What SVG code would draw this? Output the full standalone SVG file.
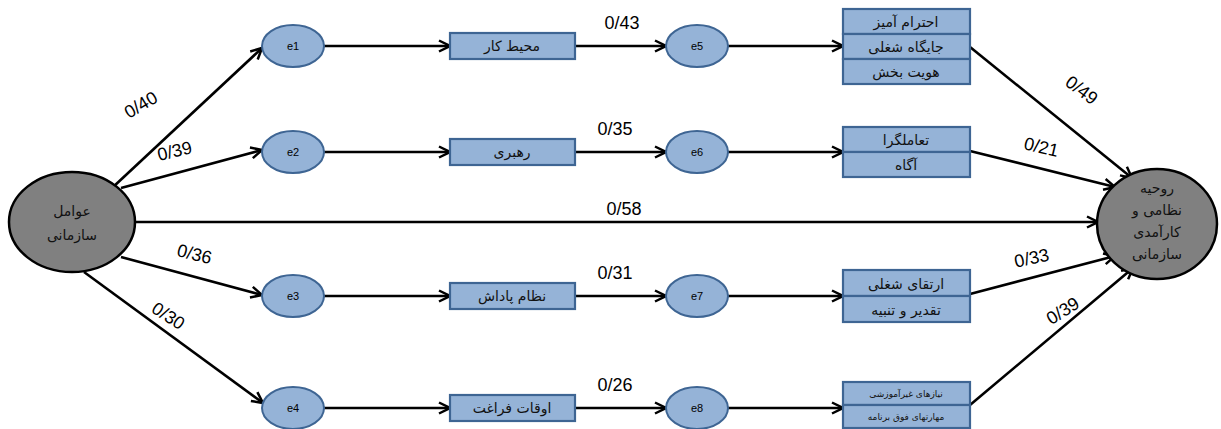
<svg xmlns="http://www.w3.org/2000/svg" width="1221" height="429" viewBox="0 0 1221 429">
<defs>
<marker id="arr" markerUnits="userSpaceOnUse" markerWidth="14" markerHeight="14" viewBox="0 0 14 14" refX="13" refY="7" orient="auto">
<path d="M2,1.5 L13,7 L2,12.5" fill="none" stroke="#000" stroke-width="2.5"/>
</marker>
</defs>
<style>
.c{stroke:#000;stroke-width:2.6;fill:none}
.big{fill:#808080;stroke:#000;stroke-width:2.5}
.e{fill:#95B3D7;stroke:#3E6593;stroke-width:2}
.b{fill:#95B3D7;stroke:#3E6593;stroke-width:2.2}
.lbl{font-family:"Liberation Sans",Arial,sans-serif;font-size:18px;fill:#000;text-anchor:middle}
.et{font-family:"Liberation Sans",Arial,sans-serif;font-size:11px;fill:#000;text-anchor:middle}
.fa{font-family:"DejaVu Sans","Noto Sans",sans-serif;font-size:14px;fill:#111;text-anchor:middle}
.fs{font-family:"DejaVu Sans","Noto Sans",sans-serif;font-size:9px;fill:#111;text-anchor:middle}
.ft{font-family:"DejaVu Sans","Noto Sans",sans-serif;font-size:14px;fill:#111;text-anchor:middle}
</style>
<rect width="1221" height="429" fill="#fff"/>
<g id="connectors">
<line class="c" x1="112" y1="188" x2="262" y2="48" marker-end="url(#arr)"/>
<line class="c" x1="121" y1="188" x2="262" y2="150" marker-end="url(#arr)"/>
<line class="c" x1="136" y1="222" x2="1098" y2="222" marker-end="url(#arr)"/>
<line class="c" x1="121" y1="257" x2="262" y2="295" marker-end="url(#arr)"/>
<line class="c" x1="84" y1="272" x2="263" y2="403" marker-end="url(#arr)"/>
<line class="c" x1="324" y1="46" x2="450" y2="46" marker-end="url(#arr)"/>
<line class="c" x1="324" y1="152" x2="450" y2="152" marker-end="url(#arr)"/>
<line class="c" x1="324" y1="296" x2="450" y2="296" marker-end="url(#arr)"/>
<line class="c" x1="324" y1="408" x2="450" y2="408" marker-end="url(#arr)"/>
<line class="c" x1="575" y1="46" x2="666" y2="46" marker-end="url(#arr)"/>
<line class="c" x1="575" y1="152" x2="666" y2="152" marker-end="url(#arr)"/>
<line class="c" x1="575" y1="296" x2="666" y2="296" marker-end="url(#arr)"/>
<line class="c" x1="575" y1="408" x2="666" y2="408" marker-end="url(#arr)"/>
<line class="c" x1="728" y1="46" x2="843" y2="46" marker-end="url(#arr)"/>
<line class="c" x1="728" y1="152" x2="843" y2="152" marker-end="url(#arr)"/>
<line class="c" x1="728" y1="296" x2="843" y2="296" marker-end="url(#arr)"/>
<line class="c" x1="728" y1="408" x2="843" y2="408" marker-end="url(#arr)"/>
<line class="c" x1="970" y1="47" x2="1132" y2="178" marker-end="url(#arr)"/>
<line class="c" x1="970" y1="151" x2="1115" y2="187" marker-end="url(#arr)"/>
<line class="c" x1="970" y1="294" x2="1115" y2="256" marker-end="url(#arr)"/>
<line class="c" x1="970" y1="405" x2="1133" y2="268" marker-end="url(#arr)"/>
<text class="lbl" transform="translate(144,110) rotate(-31)">0/40</text>
<text class="lbl" transform="translate(176,157) rotate(-13)">0/39</text>
<text class="lbl" transform="translate(193,260) rotate(14)">0/36</text>
<text class="lbl" transform="translate(165,321) rotate(33)">0/30</text>
<text class="lbl" x="622" y="29">0/43</text>
<text class="lbl" x="615" y="135">0/35</text>
<text class="lbl" x="624" y="215">0/58</text>
<text class="lbl" x="615" y="279">0/31</text>
<text class="lbl" x="615" y="391">0/26</text>
<text class="lbl" transform="translate(1078,95) rotate(37)">0/49</text>
<text class="lbl" transform="translate(1040,153) rotate(13)">0/21</text>
<text class="lbl" transform="translate(1033,264) rotate(-12)">0/33</text>
<text class="lbl" transform="translate(1066,316) rotate(-32)">0/39</text>
</g>
<g id="n0">
<ellipse class="big" cx="72" cy="222" rx="63" ry="50"/>
<text class="ft" x="72" y="216">عوامل</text>
<text class="ft" x="72" y="240">سازمانی</text>
</g>
<g id="n9">
<ellipse class="big" cx="1157" cy="224" rx="60" ry="55"/>
<text class="ft" x="1157" y="193">روحیه</text>
<text class="ft" x="1157" y="215">نظامی و</text>
<text class="ft" x="1157" y="237">کارآمدی</text>
<text class="ft" x="1157" y="259">سازمانی</text>
</g>
<g id="e1"><ellipse class="e" cx="293" cy="46" rx="31" ry="21"/><text class="et" x="293" y="50">e1</text></g>
<g id="e2"><ellipse class="e" cx="293" cy="152" rx="31" ry="21"/><text class="et" x="293" y="156">e2</text></g>
<g id="e3"><ellipse class="e" cx="293" cy="296" rx="31" ry="21"/><text class="et" x="293" y="300">e3</text></g>
<g id="e4"><ellipse class="e" cx="293" cy="408" rx="31" ry="21"/><text class="et" x="293" y="412">e4</text></g>
<g id="e5"><ellipse class="e" cx="697" cy="46" rx="31" ry="21"/><text class="et" x="697" y="50">e5</text></g>
<g id="e6"><ellipse class="e" cx="697" cy="152" rx="31" ry="21"/><text class="et" x="697" y="156">e6</text></g>
<g id="e7"><ellipse class="e" cx="697" cy="296" rx="31" ry="21"/><text class="et" x="697" y="300">e7</text></g>
<g id="e8"><ellipse class="e" cx="697" cy="408" rx="31" ry="21"/><text class="et" x="697" y="412">e8</text></g>
<g id="b1"><rect class="b" x="450" y="33" width="125" height="26"/><text class="fa" x="512" y="51">محیط کار</text></g>
<g id="b2"><rect class="b" x="450" y="139" width="125" height="26"/><text class="fa" x="512" y="157">رهبری</text></g>
<g id="b3"><rect class="b" x="450" y="283" width="125" height="26"/><text class="fa" x="512" y="301">نظام پاداش</text></g>
<g id="b4"><rect class="b" x="450" y="395" width="125" height="26"/><text class="fa" x="512" y="413">اوقات فراغت</text></g>
<g id="b5">
<rect class="b" x="843" y="9" width="127" height="25"/>
<rect class="b" x="843" y="34" width="127" height="25"/>
<rect class="b" x="843" y="59" width="127" height="25"/>
<text class="fa" x="906" y="27">احترام آمیز</text>
<text class="fa" x="906" y="52">جایگاه شغلی</text>
<text class="fa" x="906" y="77">هویت بخش</text>
</g>
<g id="b6">
<rect class="b" x="843" y="127" width="127" height="25"/>
<rect class="b" x="843" y="152" width="127" height="25"/>
<text class="fa" x="906" y="145">تعاملگرا</text>
<text class="fa" x="906" y="170">آگاه</text>
</g>
<g id="b7">
<rect class="b" x="843" y="270" width="127" height="26"/>
<rect class="b" x="843" y="296" width="127" height="26"/>
<text class="fa" x="906" y="289">ارتقای شغلی</text>
<text class="fa" x="906" y="315">تقدیر و تنبیه</text>
</g>
<g id="b8">
<rect class="b" x="843" y="382" width="127" height="23"/>
<rect class="b" x="843" y="405" width="127" height="23"/>
<text class="fs" x="906" y="397">نیازهای غیرآموزشی</text>
<text class="fs" x="906" y="420">مهارتهای فوق برنامه</text>
</g>
</svg>
